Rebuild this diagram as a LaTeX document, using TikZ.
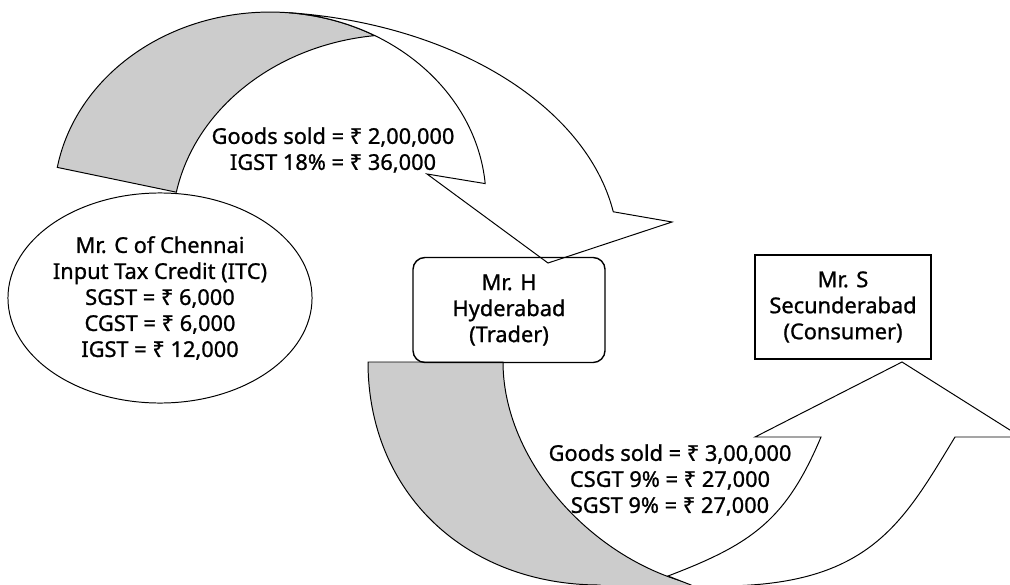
\documentclass[tikz,border=0pt]{standalone}
\usepackage{fontspec}
\setmainfont{Noto Sans}[FakeBold=1]
\usepackage{tikz}
\usetikzlibrary{shapes.geometric}

\begin{document}
\begin{tikzpicture}[
	x=0.025cm, y=-0.025cm,
	line width=0.7pt,
	font=\fontsize{15.5}{18.5}\selectfont
]
\tikzset{
    mybox/.style = {rectangle, draw=black, align=center, inner sep=0pt},
    myellipse/.style = {ellipse, draw=black, align=center, inner sep=0pt, minimum width=7.6cm, minimum height=5.25cm},
    mytext/.style = {align=center, inner sep=0pt},
    myfront/.style = {draw=black, fill=white},
    myback/.style = {draw=black, fill=black!20}
}
\useasboundingbox (0,0) rectangle (1010,584);
\clip (0,0) rectangle (1010,584);
% Mr. C -> Mr. H
\filldraw[myback] (57.3,167.4) arc[start angle=-170, end angle=-61, x radius=216, y radius=188]
    arc[start angle=-96.4, end angle=-169, x radius=228, y radius=195] -- cycle;
\filldraw[myfront] (288.8,12.7) arc[start angle=-84, end angle=-9.5, x radius=368, y radius=240]
    -- (672,222) -- (548,263) -- (427,174) -- (485.2,183.6)
    arc[start angle=-5, end angle=-85, x radius=216, y radius=188] -- cycle;
% Mr. H -> Mr. S
\filldraw[myback] (368,362) -- (503,362) .. controls (503,476) and (621.5,590) .. (740,590)
    -- (600,590) -- (600,585) .. controls (465,585) and (368,492) .. (368,362) -- cycle;
\filldraw[myfront] (668,576) .. controls (752,544) and (786,520) .. (821,437)
    -- (755,437) -- (902,362) -- (1021,437) -- (955,437)
    .. controls (903,522.5) and (870,586) .. (720,586)
    -- (720,595) -- (705,595) -- (691,585) -- cycle;
% the parties
\node[myellipse] (chennai) at (160,298) {Mr. C of Chennai\\Input Tax Credit (ITC)\\SGST = ₹ 6,000\\CGST = ₹ 6,000\\IGST = ₹ 12,000};
\node[mybox, rounded corners=0.3cm, minimum width=4.8cm, minimum height=2.625cm, line width=1pt] (hyd) at (509,310) {Mr. H\\Hyderabad\\(Trader)};
\node[mybox, minimum width=4.4cm, minimum height=2.6cm, line width=1.2pt] (sec) at (843,307) {Mr. S\\Secunderabad\\(Consumer)};
% the sales
\node[mytext] (sale1) at (333,150) {Goods sold = ₹ 2,00,000\\IGST 18\% = ₹ 36,000};
\node[mytext] (sale2) at (670,480) {Goods sold = ₹ 3,00,000\\CSGT 9\% = ₹ 27,000\\SGST 9\% = ₹ 27,000};
\end{tikzpicture}
\end{document}
